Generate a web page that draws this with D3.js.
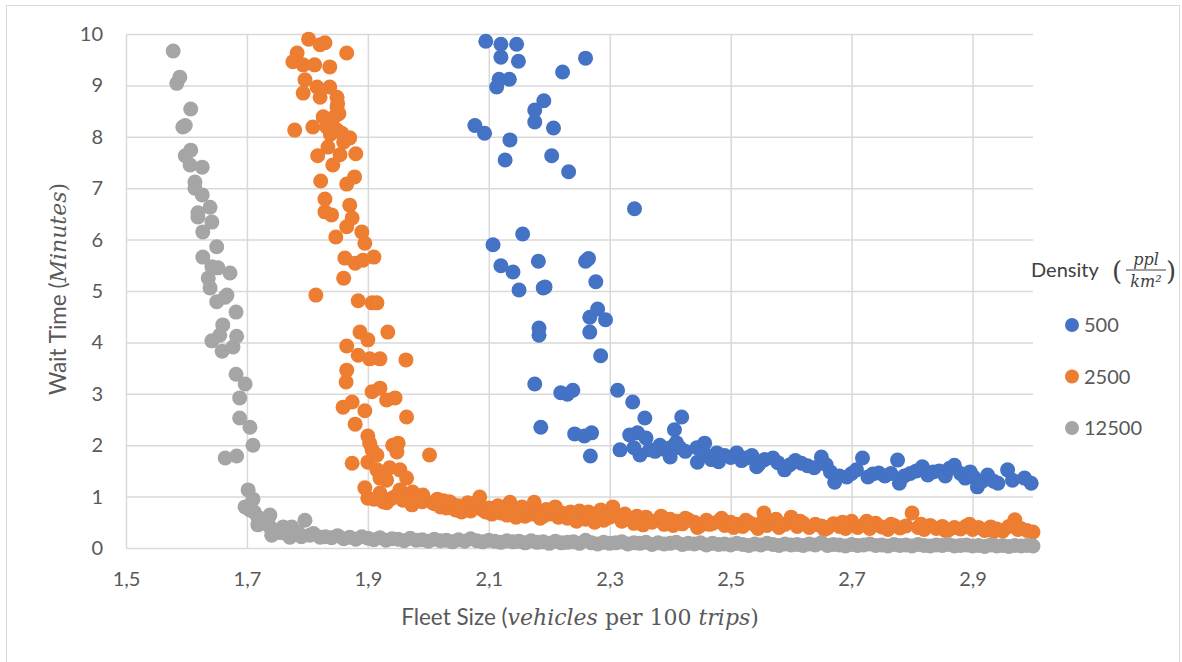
<!DOCTYPE html>
<html lang="en">

<head>
    <meta charset="UTF-8">
    <title>Wait Time vs Fleet Size</title>
    <style>
        body { margin: 0; background: #fff; }
        svg { display: block; }
    </style>
</head>

<body>
    <script src="https://d3js.org/d3.v7.min.js"></script>

    <script>
        // series names + colours
        var seriesNames = ['500', '2500', '12500']
        var seriesColors = ['#4472C4', '#ED7D31', '#A5A5A5']

        var xTicks = [1.5, 1.7, 1.9, 2.1, 2.3, 2.5, 2.7, 2.9]
        var yTicks = [0, 1, 2, 3, 4, 5, 6, 7, 8, 9, 10]

        // density 500  [fleet size, wait time]
        var d500 = [
            [2.095, 9.86], [2.12, 9.80], [2.146, 9.80], [2.12, 9.55], [2.149, 9.47], [2.26, 9.53], [2.222, 9.26],
            [2.117, 9.12], [2.134, 9.12], [2.113, 8.97], [2.191, 8.70], [2.176, 8.52], [2.176, 8.29], [2.207, 8.17],
            [2.077, 8.22], [2.093, 8.07], [2.135, 7.94], [2.127, 7.55], [2.204, 7.63], [2.232, 7.32], [2.341, 6.60],
            [2.156, 6.11], [2.107, 5.90], [2.12, 5.49], [2.14, 5.37], [2.182, 5.58], [2.26, 5.58], [2.265, 5.63],
            [2.15, 5.02], [2.19, 5.06], [2.193, 5.08], [2.277, 5.18], [2.183, 4.28], [2.183, 4.14], [2.28, 4.65],
            [2.267, 4.49], [2.293, 4.44], [2.267, 4.20], [2.285, 3.74], [2.176, 3.19], [2.219, 3.02], [2.23, 2.99],
            [2.239, 3.07], [2.313, 3.07], [2.338, 2.84], [2.358, 2.53], [2.419, 2.55], [2.186, 2.35], [2.242, 2.22],
            [2.258, 2.18], [2.27, 2.24], [2.268, 1.79], [2.407, 2.30], [2.40, 1.95],
            [2.317, 1.91], [2.333, 2.20], [2.346, 2.24], [2.36, 2.14], [2.35, 1.81], [2.366, 1.91], [2.383, 2.00],
            [2.34, 1.95], [2.375, 1.88], [2.39, 1.92], [2.40, 1.77], [2.416, 1.95], [2.41, 2.05], [2.425, 1.88],
            [2.444, 1.95], [2.457, 2.04], [2.445, 1.67], [2.46, 1.80], [2.468, 1.72], [2.477, 1.85], [2.48, 1.68],
            [2.49, 1.80], [2.50, 1.76], [2.51, 1.85], [2.518, 1.70], [2.526, 1.75], [2.535, 1.80], [2.543, 1.58],
            [2.548, 1.65], [2.556, 1.72], [2.57, 1.75], [2.578, 1.66], [2.589, 1.52], [2.598, 1.62], [2.607, 1.70],
            [2.617, 1.65], [2.627, 1.60], [2.638, 1.56], [2.65, 1.77], [2.658, 1.62], [2.665, 1.48], [2.672, 1.28],
            [2.68, 1.40], [2.692, 1.38], [2.70, 1.45], [2.708, 1.52], [2.718, 1.75], [2.727, 1.38], [2.735, 1.44],
            [2.745, 1.46], [2.755, 1.40], [2.765, 1.45], [2.776, 1.71], [2.779, 1.26], [2.787, 1.40], [2.797, 1.45],
            [2.807, 1.50], [2.817, 1.58], [2.826, 1.42], [2.835, 1.48], [2.845, 1.50], [2.855, 1.40], [2.862, 1.55],
            [2.87, 1.61], [2.88, 1.45], [2.888, 1.36], [2.896, 1.48], [2.902, 1.38], [2.908, 1.19], [2.916, 1.30],
            [2.925, 1.42], [2.935, 1.30], [2.942, 1.26], [2.958, 1.52], [2.966, 1.32], [2.986, 1.36], [2.997, 1.26]
        ]

        // density 2500
        var d2500 = [
            [1.802, 9.90], [1.821, 9.79], [1.829, 9.83], [1.783, 9.63], [1.865, 9.63], [1.776, 9.46], [1.793, 9.40],
            [1.812, 9.40], [1.837, 9.36], [1.796, 9.11], [1.793, 8.85], [1.816, 8.97], [1.837, 8.97], [1.849, 8.77],
            [1.821, 8.77], [1.849, 8.58], [1.826, 8.39], [1.845, 8.39], [1.779, 8.13], [1.809, 8.19], [1.832, 8.19],
            [1.849, 8.13], [1.857, 8.07], [1.870, 7.98], [1.84, 8.25], [1.852, 8.45], [1.85, 8.65], [1.838, 8.05],
            [1.86, 7.90], [1.834, 7.80], [1.817, 7.63], [1.854, 7.65], [1.880, 7.67], [1.842, 7.45], [1.822, 7.14],
            [1.865, 7.08], [1.878, 7.22], [1.829, 6.79], [1.829, 6.54], [1.840, 6.48], [1.870, 6.67], [1.874, 6.42],
            [1.865, 6.25], [1.847, 6.05], [1.890, 6.15], [1.895, 5.93], [1.862, 5.64], [1.879, 5.54], [1.892, 5.60],
            [1.910, 5.66], [1.860, 5.25], [1.814, 4.92], [1.884, 4.81], [1.907, 4.77], [1.915, 4.77], [1.887, 4.20],
            [1.900, 4.05], [1.933, 4.20], [1.865, 3.93], [1.884, 3.75], [1.903, 3.68], [1.920, 3.68], [1.963, 3.66],
            [1.865, 3.46], [1.864, 3.23], [1.907, 3.04], [1.920, 3.11], [1.931, 2.88], [1.945, 2.92], [1.859, 2.74],
            [1.874, 2.84], [1.895, 2.67], [1.964, 2.55], [1.879, 2.41], [1.900, 2.18], [1.903, 2.04], [1.907, 1.91],
            [1.915, 1.81], [1.941, 2.00], [1.950, 2.04], [1.948, 1.87], [2.002, 1.81], [1.874, 1.65], [1.900, 1.67],
            [1.915, 1.52], [1.936, 1.56], [1.953, 1.52], [1.964, 1.36], [1.931, 1.32], [1.920, 1.36], [1.895, 1.17],
            [1.900, 0.97], [1.920, 1.07], [1.940, 0.97], [1.958, 0.93], [1.974, 1.09], [1.991, 1.03], [2.007, 0.88],
            [1.953, 1.13], [1.973, 0.84], [1.931, 0.88], [1.983, 0.93], [1.91, 0.95], [1.925, 0.90], [1.945, 1.00],
            [1.965, 0.95], [1.99, 0.90],
            [2.01, .86], [2.02, .80], [2.025, .92], [2.03, .78], [2.04, .85], [2.045, .74], [2.05, .82], [2.06, .76],
            [2.065, .88], [2.07, .72], [2.08, .80], [2.085, .99], [2.09, .74], [2.095, .70], [2.10, .78], [2.105, .66],
            [2.11, .72], [2.12, .68], [2.125, .80], [2.13, .64], [2.135, .89], [2.14, .72], [2.15, .70], [2.16, .62],
            [2.165, .76], [2.17, .66], [2.175, .89], [2.18, .70], [2.19, .62], [2.20, .66], [2.21, .80], [2.215, .60],
            [2.22, .68], [2.23, .58], [2.24, .64], [2.25, .72], [2.26, .56], [2.27, .62], [2.28, .66], [2.29, .54],
            [2.30, .60], [2.305, .80], [2.31, .64], [2.32, .52], [2.33, .58], [2.34, .48], [2.35, .56], [2.36, .60],
            [2.37, .50], [2.38, .55], [2.39, .46], [2.40, .56], [2.41, .52], [2.42, .47], [2.43, .55], [2.44, .50],
            [2.45, .44], [2.46, .54], [2.47, .48], [2.48, .52], [2.49, .44], [2.50, .50], [2.51, .46], [2.52, .42],
            [2.53, .50], [2.54, .45], [2.55, .48], [2.555, .68], [2.56, .44], [2.57, .50], [2.58, .40], [2.59, .46],
            [2.60, .60], [2.61, .42], [2.62, .48], [2.63, .40], [2.64, .46], [2.65, .43], [2.66, .39], [2.67, .47],
            [2.68, .42], [2.69, .38], [2.70, .52], [2.71, .40], [2.72, .45], [2.73, .38], [2.74, .48], [2.75, .41],
            [2.76, .36], [2.77, .44], [2.78, .39], [2.79, .43], [2.80, .68], [2.81, .40], [2.82, .36], [2.83, .44],
            [2.84, .38], [2.85, .42], [2.86, .35], [2.87, .40], [2.88, .37], [2.89, .43], [2.90, .36], [2.91, .40],
            [2.92, .34], [2.93, .41], [2.94, .37], [2.95, .33], [2.96, .42], [2.97, .55], [2.98, .38], [2.99, .34],
            [3.00, .31],
            [2.015, .95], [2.035, .90], [2.055, .70], [2.075, .86], [2.115, .82], [2.145, .60], [2.155, .80],
            [2.185, .58], [2.195, .75], [2.235, .70], [2.245, .52], [2.265, .70], [2.275, .50], [2.285, .74],
            [2.295, .64], [2.325, .66], [2.345, .62], [2.355, .45], [2.365, .52], [2.385, .62], [2.405, .44],
            [2.425, .58], [2.445, .40], [2.465, .46], [2.485, .58], [2.505, .40], [2.525, .54], [2.545, .38],
            [2.575, .56], [2.615, .52], [2.655, .36], [2.685, .50], [2.725, .52], [2.765, .46], [2.815, .46],
            [2.855, .34], [2.895, .46], [2.935, .32], [2.975, .36]
        ]

        // density 12500
        var d12500 = [
            [1.578, 9.67], [1.589, 9.16], [1.584, 9.04], [1.607, 8.54], [1.594, 8.19], [1.598, 8.22], [1.607, 7.74],
            [1.598, 7.63], [1.606, 7.45], [1.626, 7.41], [1.614, 7.12], [1.614, 7.00], [1.626, 6.87], [1.639, 6.63],
            [1.619, 6.52], [1.619, 6.44], [1.642, 6.34], [1.627, 6.15], [1.650, 5.86], [1.627, 5.66], [1.642, 5.47],
            [1.652, 5.45], [1.672, 5.35], [1.636, 5.25], [1.639, 5.06], [1.667, 4.92], [1.650, 4.79], [1.664, 4.88],
            [1.682, 4.59], [1.660, 4.34], [1.655, 4.14], [1.642, 4.03], [1.683, 4.12], [1.677, 3.91], [1.659, 3.83],
            [1.682, 3.38], [1.697, 3.19], [1.688, 2.92], [1.688, 2.53], [1.705, 2.35], [1.710, 2.00], [1.664, 1.75],
            [1.683, 1.79], [1.702, 1.13], [1.710, 0.95], [1.697, 0.80], [1.705, 0.74], [1.718, 0.60], [1.738, 0.64],
            [1.718, 0.45], [1.738, 0.41], [1.741, 0.25], [1.760, 0.41], [1.774, 0.41], [1.796, 0.54], [1.771, 0.21],
            [1.804, 0.25], [1.821, 0.21], [1.726, 0.49], [1.747, 0.33], [1.755, 0.30], [1.765, 0.28], [1.785, 0.30],
            [1.79, 0.22], [1.81, 0.28], [1.712, 0.70], [1.73, 0.55],
            [1.83, .22], [1.84, .20], [1.85, .24], [1.86, .18], [1.87, .21], [1.88, .17], [1.89, .22], [1.90, .19],
            [1.91, .16], [1.92, .20], [1.93, .15], [1.94, .18], [1.95, .17], [1.96, .14], [1.97, .19], [1.98, .15],
            [1.99, .16], [2.00, .13], [2.01, .17], [2.02, .14], [2.03, .15], [2.04, .12], [2.05, .16], [2.06, .13],
            [2.07, .18], [2.08, .14], [2.09, .12], [2.10, .15], [2.11, .13], [2.12, .11], [2.13, .14], [2.14, .12],
            [2.15, .13], [2.16, .10], [2.17, .14], [2.18, .11], [2.19, .12], [2.20, .09], [2.21, .13], [2.22, .10],
            [2.23, .11], [2.24, .12], [2.25, .09], [2.26, .15], [2.27, .10], [2.28, .08], [2.29, .11], [2.30, .09],
            [2.31, .10], [2.32, .12], [2.33, .08], [2.34, .10], [2.35, .09], [2.36, .11], [2.37, .07], [2.38, .10],
            [2.39, .08], [2.40, .09], [2.41, .11], [2.42, .07], [2.43, .09], [2.44, .08], [2.45, .10], [2.46, .06],
            [2.47, .09], [2.48, .07], [2.49, .08], [2.50, .06], [2.51, .09], [2.52, .07], [2.53, .05], [2.54, .08],
            [2.55, .06], [2.56, .09], [2.57, .07], [2.58, .05], [2.59, .08], [2.60, .06], [2.61, .07], [2.62, .05],
            [2.63, .08], [2.64, .06], [2.65, .10], [2.66, .05], [2.67, .07], [2.68, .06], [2.69, .04], [2.70, .07],
            [2.71, .05], [2.72, .06], [2.73, .08], [2.74, .05], [2.75, .06], [2.76, .04], [2.77, .07], [2.78, .05],
            [2.79, .06], [2.80, .04], [2.81, .07], [2.82, .05], [2.83, .04], [2.84, .06], [2.85, .05], [2.86, .07],
            [2.87, .04], [2.88, .05], [2.89, .06], [2.90, .04], [2.91, .05], [2.92, .03], [2.93, .06], [2.94, .04],
            [2.95, .05], [2.96, .03], [2.97, .05], [2.98, .04], [2.99, .05], [3.00, .04]
        ]

        var allSeries = [d500, d2500, d12500]

        var W = 1182, H = 662
        var sans = 'Lato, "Open Sans", sans-serif'
        var serif = '"DejaVu Serif", serif'
        var textCol = '#595959'

        var x = d3.scaleLinear().domain([1.5, 3.0]).range([126, 1033])
        var y = d3.scaleLinear().domain([0, 10]).range([548, 34])

        var svg = d3.select('body').append('svg')
            .attr('width', W)
            .attr('height', H)

        // chart border
        svg.append('rect')
            .attr('x', 6.5).attr('y', 5.5)
            .attr('width', 1173).attr('height', 670)
            .attr('fill', '#fff')
            .attr('stroke', '#d9d9d9')

        // horizontal grid + y labels
        var yAxis = svg.append('g')
            .attr('transform', 'translate(' + x(1.5) + ',0)')
            .call(d3.axisLeft(y).tickValues(yTicks).tickSize(-(x(3.0) - x(1.5))).tickPadding(23))
        yAxis.select('.domain').remove()
        yAxis.selectAll('line').attr('stroke', '#d9d9d9').attr('stroke-width', 1.5)
        yAxis.selectAll('text').attr('fill', textCol).style('font-family', sans).style('font-size', '20px')

        // vertical grid + x labels
        var xAxis = svg.append('g')
            .attr('transform', 'translate(0,' + y(0) + ')')
            .call(d3.axisBottom(x).tickValues(xTicks).tickSize(-(y(0) - y(10))).tickPadding(24)
                .tickFormat(function (d) { return d3.format('.1f')(d).replace('.', ',') }))
        xAxis.select('.domain').remove()
        xAxis.selectAll('line').attr('stroke', '#d9d9d9').attr('stroke-width', 1.5)
        xAxis.selectAll('text').attr('fill', textCol).style('font-family', sans).style('font-size', '20px')

        // points
        allSeries.forEach(function (pts, i) {
            svg.append('g').selectAll('circle').data(pts).enter().append('circle')
                .attr('cx', function (d) { return x(d[0]) })
                .attr('cy', function (d) { return y(d[1]) })
                .attr('r', 7.5)
                .attr('fill', seriesColors[i])
        })

        // y axis title
        var yt = svg.append('text')
            .attr('transform', 'translate(66,289) rotate(-90)')
            .attr('text-anchor', 'middle')
            .attr('fill', textCol)
            .style('font-family', sans).style('font-size', '22.5px')
        yt.append('tspan').text('Wait Time (')
        yt.append('tspan').text('Minutes').style('font-family', serif).style('font-style', 'italic').style('font-size', '22px')
        yt.append('tspan').text(')').style('font-family', serif).style('font-size', '22px')

        // x axis title
        var xt = svg.append('text')
            .attr('x', 580).attr('y', 625)
            .attr('text-anchor', 'middle')
            .attr('fill', textCol)
            .style('font-family', sans).style('font-size', '22.5px')
        xt.append('tspan').text('Fleet Size (')
        xt.append('tspan').text('vehicles').style('font-family', serif).style('font-style', 'italic').style('font-size', '22px')
        xt.append('tspan').text(' per 100 ').style('font-family', serif).style('font-size', '22px')
        xt.append('tspan').text('trips').style('font-family', serif).style('font-style', 'italic').style('font-size', '22px')
        xt.append('tspan').text(')').style('font-family', serif).style('font-size', '22px')

        // legend
        var lg = svg.append('g')
        lg.append('text').attr('x', 1031).attr('y', 277)
            .attr('fill', '#404040')
            .style('font-family', sans).style('font-size', '20px')
            .text('Density')
        lg.append('text').attr('x', 1112).attr('y', 280)
            .attr('fill', '#404040')
            .style('font-family', serif).style('font-size', '26px')
            .text('(')
        lg.append('text').attr('x', 1146).attr('y', 265).attr('text-anchor', 'middle')
            .attr('fill', '#404040')
            .style('font-family', serif).style('font-style', 'italic').style('font-size', '16px')
            .text('ppl')
        lg.append('line').attr('x1', 1126).attr('x2', 1166).attr('y1', 270).attr('y2', 270)
            .attr('stroke', '#404040').attr('stroke-width', 1)
        lg.append('text').attr('x', 1146).attr('y', 287).attr('text-anchor', 'middle')
            .attr('fill', '#404040')
            .style('font-family', serif).style('font-style', 'italic').style('font-size', '16px')
            .text('km²')
        lg.append('text').attr('x', 1166).attr('y', 280)
            .attr('fill', '#404040')
            .style('font-family', serif).style('font-size', '26px')
            .text(')')

        var item = lg.selectAll('.item').data(seriesNames).enter().append('g')
            .attr('transform', function (d, i) { return 'translate(1072,' + (325 + i * 51.5) + ')' })
        item.append('circle').attr('r', 7).attr('fill', function (d, i) { return seriesColors[i] })
        item.append('text').attr('x', 12).attr('y', 7)
            .attr('fill', textCol)
            .style('font-family', sans).style('font-size', '20px')
            .text(function (d) { return d })
    </script>
</body>

</html>
